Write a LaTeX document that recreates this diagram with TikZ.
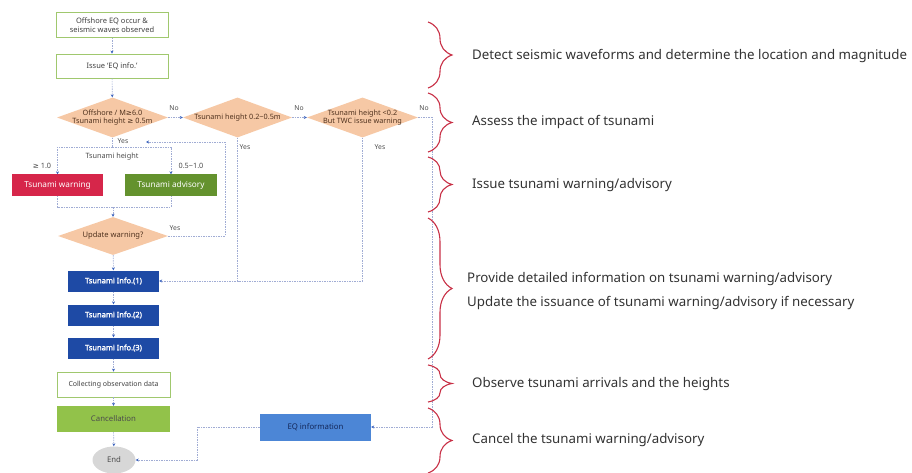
\documentclass[tikz,border=0pt]{standalone}
\usepackage{fontspec}
\setmainfont{Noto Sans}
\newfontfamily\symf{DejaVu Sans}
\newfontfamily\ibf{Noto Sans}[FakeBold=2]
\usetikzlibrary{shapes.geometric,arrows.meta,decorations.pathreplacing}
\definecolor{boxgreen}{RGB}{160,200,110}
\definecolor{dfill}{RGB}{246,200,165}
\definecolor{dtext}{RGB}{80,50,30}
\definecolor{warnred}{RGB}{214,38,74}
\definecolor{advgreen}{RGB}{100,146,46}
\definecolor{infoblue}{RGB}{30,74,165}
\definecolor{eqblue}{RGB}{76,134,214}
\definecolor{cangreen}{RGB}{146,194,74}
\definecolor{endgray}{RGB}{215,215,215}
\definecolor{lineblue}{RGB}{160,172,212}
\definecolor{arrblue}{RGB}{60,100,190}
\definecolor{bracered}{RGB}{200,48,70}
\definecolor{rtext}{RGB}{50,50,50}
\tikzset{
  wbox/.style={draw=boxgreen,line width=0.8pt,fill=white,minimum width=112pt,minimum height=25pt,inner sep=1pt,font=\fontsize{7.5}{9}\selectfont,text=black!75,align=center},
  dmd/.style={diamond,fill=dfill,inner sep=0pt,minimum width=111pt,minimum height=40pt},
  dlab/.style={font=\fontsize{7.3}{8.6}\selectfont,text=dtext,align=center,inner sep=0pt},
  cbox/.style={minimum width=91pt,minimum height=21pt,inner sep=1pt,font=\fontsize{8.2}{9}\selectfont,text=white},
  ibox/.style={fill=infoblue,minimum width=91pt,minimum height=21pt,inner sep=1pt,font=\ibf\fontsize{7.5}{9}\selectfont,text=white},
  conn/.style={draw=lineblue,line width=0.6pt,dash pattern=on 1.5pt off 1pt},
  arr/.style={conn,-{Stealth[length=3pt,width=3pt,color=arrblue]}},
  small/.style={font=\fontsize{6.8}{8}\selectfont,text=black!70,inner sep=0pt},
  brc/.style={draw=bracered,line width=1.1pt,decorate,decoration={brace,amplitude=24pt}},
  rt/.style={anchor=west,font=\fontsize{13.3}{15}\selectfont,text=rtext,inner sep=0pt}
}
\begin{document}
\begin{tikzpicture}[x=1pt,y=-1pt]
\useasboundingbox (0,0) rectangle (912,473);
% nodes
\node[wbox] (b1) at (112,25) {Offshore EQ occur \&\\seismic waves observed};
\node[wbox,minimum height=24pt] (b2) at (112,66) {Issue `EQ info.'};
\node[dmd,label={[dlab]center:Offshore / M{\symf≥}6.0\\Tsunami height {\symf≥} 0.5m}] (d1) at (112.5,117.5) {};
\node[dmd,minimum width=109pt,label={[dlab]center:Tsunami height 0.2\textasciitilde0.5m}] (d2) at (237.5,117.5) {};
\node[dmd,label={[dlab]center:Tsunami height <0.2\\But TWC issue warning}] (d3) at (362.5,117.5) {};
\node[cbox,fill=warnred] (warn) at (57.5,185) {Tsunami warning};
\node[cbox,fill=advgreen,minimum width=92pt] (adv) at (171,185) {Tsunami advisory};
\node[small,font=\fontsize{7.3}{8}\selectfont] (th) at (112,157) {Tsunami height};
\node[dmd,minimum width=110pt,minimum height=38pt,label={[dlab,font=\fontsize{7.6}{8}\selectfont]center:Update warning?}] (upd) at (113,236) {};
\node[ibox] (i1) at (113.5,281) {Tsunami Info.(1)};
\node[ibox] (i2) at (113.5,315) {Tsunami Info.(2)};
\node[ibox] (i3) at (113.5,348) {Tsunami Info.(3)};
\node[wbox,minimum width=113pt,minimum height=25pt,font=\fontsize{7}{8}\selectfont] (col) at (113.5,384.5) {Collecting observation data};
\node[fill=cangreen,minimum width=113pt,minimum height=26pt,inner sep=1pt,font=\fontsize{7.8}{9}\selectfont,text=black!70] (can) at (113.5,419) {Cancellation};
\node[ellipse,fill=endgray,minimum width=43pt,minimum height=27pt,inner sep=0pt,font=\fontsize{7.8}{9}\selectfont,text=black!70] (end) at (114,460) {End};
\node[fill=eqblue,minimum width=111pt,minimum height=27pt,inner sep=1pt,font=\fontsize{7.8}{9}\selectfont,text={rgb,255:red,20;green,40;blue,90}] (eq) at (315.5,427) {EQ information};
% labels
\node[small] (no1) at (174,108) {No};
\node[small] (no2) at (299,108) {No};
\node[small] (no3) at (424,108) {No};
\node[small] (y1) at (123,141) {Yes};
\node[small] (y2) at (245,147) {Yes};
\node[small] (y3) at (380,147) {Yes};
\node[small] (y4) at (175,228) {Yes};
\node[small,font=\fontsize{7.3}{8}\selectfont] (ge) at (42,166) {{\symf≥} 1.0};
\node[small,font=\fontsize{7.3}{8}\selectfont] (hf) at (191,166) {0.5\textasciitilde1.0};
% coordinates
\coordinate (jt) at (112.5,147);
\coordinate (jb) at (113,207);
\coordinate (lp) at (225,142);
\coordinate (lpe) at (146,142);
\coordinate (jy) at (237.5,281);
\coordinate (nc) at (432,117.5);
\coordinate (ce) at (197,460);
% connectors
\draw[arr] (b1) -- (b2);
\draw[arr] (b2) -- (d1);
\draw[arr] (d1.east) -- (d2.west);
\draw[arr] (d2.east) -- (d3.west);
\draw[conn] (d1.south) -- (jt);
\draw[arr] (jt) -| (warn.north);
\draw[arr] (jt) -| (adv.north);
\draw[conn] (warn.south) |- (jb) -| (adv.south);
\draw[arr] (jb) -- (upd.north);
\draw[arr] (upd.east) -| (lp) -- (lpe);
\draw[arr] (d2.south) |- (i1.east);
\draw[conn] (d3.south) |- (jy);
\draw[arr] (d3.east) -- (nc) |- (eq.east);
\draw[arr] (eq.west) -| (ce) -- (end.east);
\draw[arr] (upd) -- (i1);
\draw[arr] (i1) -- (i2);
\draw[arr] (i2) -- (i3);
\draw[arr] (i3) -- (col);
\draw[arr] (col) -- (can);
\draw[arr] (can) -- (end);
% braces
\coordinate (a1) at (428,22); \coordinate (a2) at (428,88);
\coordinate (b1s) at (428,93); \coordinate (b2s) at (428,152);
\coordinate (c1) at (428,157); \coordinate (c2) at (428,212);
\coordinate (e1) at (428,218); \coordinate (e2) at (428,359);
\coordinate (f1) at (428,365); \coordinate (f2) at (428,402);
\coordinate (g1) at (428,408); \coordinate (g2) at (428,473);
\draw[brc] (a1) -- (a2);
\draw[brc] (b1s) -- (b2s);
\draw[brc] (c1) -- (c2);
\draw[brc] (e1) -- (e2);
\draw[brc] (f1) -- (f2);
\draw[brc] (g1) -- (g2);
% right texts
\node[rt] (t1) at (472,56) {Detect seismic waveforms and determine the location and magnitude};
\node[rt] (t2) at (472,122) {Assess the impact of tsunami};
\node[rt] (t3) at (472,185) {Issue tsunami warning/advisory};
\node[rt] (t4) at (467,279) {Provide detailed information on tsunami warning/advisory};
\node[rt] (t5) at (467,303) {Update the issuance of tsunami warning/advisory if necessary};
\node[rt] (t6) at (472,384) {Observe tsunami arrivals and the heights};
\node[rt] (t7) at (472,440) {Cancel the tsunami warning/advisory};
\end{tikzpicture}
\end{document}
